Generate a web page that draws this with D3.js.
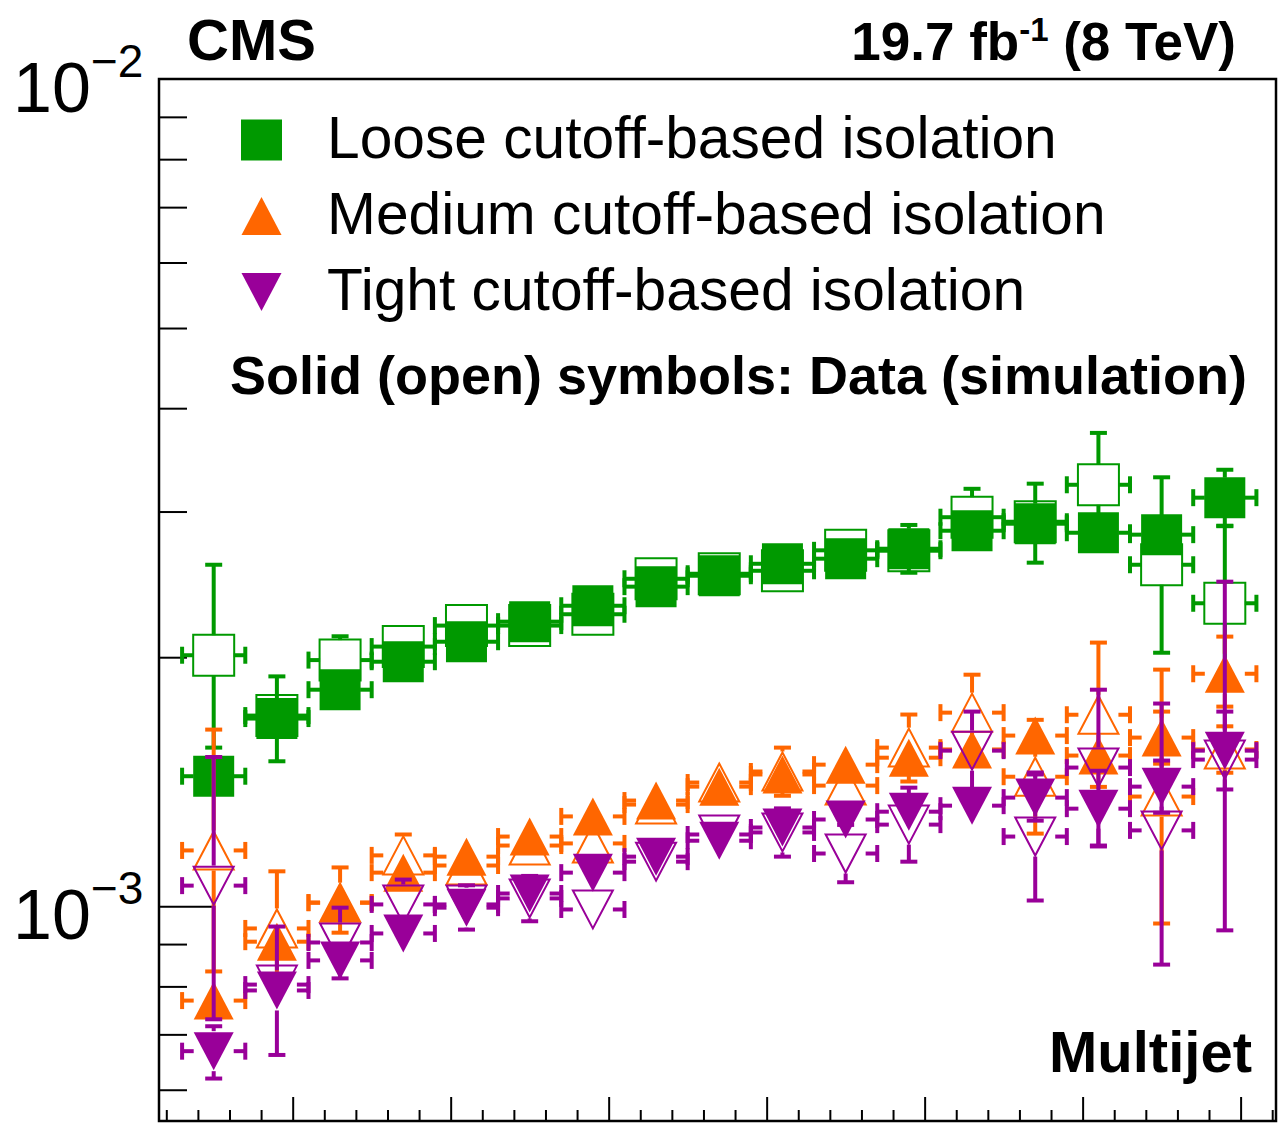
<!DOCTYPE html>
<html>
<head>
<meta charset="utf-8">
<script src="https://cdn.jsdelivr.net/npm/d3@7"></script>
<style>
  body { margin: 0; background: #fff; }
  svg { display: block; font-family: "Liberation Sans", Arial, Helvetica, sans-serif; }
</style>
</head>
<body>
<svg id="chart" width="1278" height="1127"></svg>
<script>
  // bin centres (each bin is +-1 wide)
  var binCenters = [2.5, 4.5, 6.5, 8.5, 10.5, 12.5, 14.5, 16.5, 18.5, 20.5, 22.5, 24.5, 26.5, 28.5, 30.5, 32.5, 34.5];
  var binHalfWidth = 1;

  // all values below are in units of 1e-3
  var looseData   = [1.436, 1.686, 1.827, 1.975, 2.088, 2.208, 2.308, 2.434, 2.509, 2.594, 2.631, 2.705, 2.844, 2.900, 2.828, 2.813, 3.118];
  var looseDataLo = [1.39, 1.497, 1.78, 1.93, 2.04, 2.16, 2.26, 2.38, 2.45, 2.53, 2.56, 2.53, 2.78, 2.602, 2.75, 2.70, 2.884];
  var looseDataHi = [1.49, 1.896, 1.87, 2.02, 2.14, 2.26, 2.36, 2.49, 2.57, 2.66, 2.70, 2.89, 2.91, 3.242, 2.91, 2.93, 3.370];
  var looseSim    = [2.011, 1.700, 1.984, 2.060, 2.184, 2.184, 2.254, 2.488, 2.523, 2.544, 2.693, 2.690, 2.953, 2.916, 3.232, 2.587, 2.324];
  var looseSimLo  = [1.555, 1.66, 1.93, 2.01, 2.13, 2.13, 2.20, 2.43, 2.46, 2.48, 2.63, 2.62, 2.73, 2.85, 2.80, 2.025, 1.87];
  var looseSimHi  = [2.587, 1.74, 2.12, 2.11, 2.24, 2.24, 2.31, 2.55, 2.59, 2.61, 2.76, 2.76, 3.196, 2.98, 3.734, 3.30, 2.88];

  var mediumData   = [0.769, 0.906, 1.010, 1.098, 1.148, 1.214, 1.284, 1.342, 1.395, 1.443, 1.483, 1.512, 1.547, 1.608, 1.521, 1.599, 1.910];
  var mediumDataLo = [0.745, 0.87, 0.929, 1.06, 1.11, 1.17, 1.24, 1.30, 1.35, 1.40, 1.43, 1.47, 1.50, 1.56, 1.47, 1.487, 1.743];
  var mediumDataHi = [0.795, 0.94, 1.114, 1.14, 1.19, 1.26, 1.33, 1.39, 1.44, 1.49, 1.53, 1.555, 1.60, 1.66, 1.57, 1.719, 2.118];
  var mediumSim    = [1.168, 0.940, 1.010, 1.152, 1.120, 1.184, 1.191, 1.327, 1.411, 1.455, 1.399, 1.555, 1.714, 1.434, 1.704, 1.357, 1.547];
  var mediumSimLo  = [0.834, 0.80, 0.97, 1.087, 1.08, 1.14, 1.15, 1.28, 1.36, 1.36, 1.35, 1.415, 1.542, 1.224, 1.394, 0.953, 1.45];
  var mediumSimHi  = [1.635, 1.102, 1.05, 1.221, 1.16, 1.23, 1.23, 1.37, 1.46, 1.555, 1.45, 1.705, 1.905, 1.68, 2.083, 1.932, 1.65];

  var tightData   = [0.668, 0.791, 0.860, 0.927, 0.996, 1.036, 1.098, 1.148, 1.200, 1.245, 1.273, 1.301, 1.323, 1.353, 1.312, 1.395, 1.542];
  var tightDataLo = [0.619, 0.661, 0.84, 0.89, 0.937, 1.0, 1.06, 1.11, 1.148, 1.20, 1.23, 1.27, 1.28, 1.269, 1.181, 1.297, 1.384];
  var tightDataHi = [0.716, 0.945, 0.88, 0.96, 1.06, 1.075, 1.14, 1.19, 1.254, 1.29, 1.32, 1.33, 1.37, 1.443, 1.458, 1.500, 1.719];
  var tightSim    = [1.059, 0.804, 0.904, 1.005, 1.005, 1.022, 0.991, 1.132, 1.221, 1.228, 1.158, 1.255, 1.542, 1.214, 1.471, 1.235, 1.504];
  var tightSimLo  = [0.730, 0.77, 0.818, 0.937, 0.96, 0.959, 0.95, 1.071, 1.17, 1.148, 1.069, 1.132, 1.383, 1.016, 1.184, 0.850, 0.935];
  var tightSimHi  = [1.515, 0.84, 0.996, 1.077, 1.05, 1.088, 1.03, 1.197, 1.27, 1.313, 1.254, 1.391, 1.719, 1.451, 1.827, 1.758, 2.468];

  var legendLabels = ['Loose cutoff-based isolation', 'Medium cutoff-based isolation', 'Tight cutoff-based isolation'];
  var colors = ['#009900', '#ff6600', '#990099'];
  var shapes = ['square', 'up', 'down'];

  var svg = d3.select('#chart');
  svg.append('rect').attr('width', 1278).attr('height', 1127).attr('fill', 'white');

  var frameL = 159, frameR = 1276, frameT = 79, frameB = 1121;
  var x = d3.scaleLinear().domain([0.769, 36.12]).range([frameL, frameR]);
  var y = d3.scaleLog().domain([5.5e-4, 1e-2]).range([frameB, frameT]);

  // frame
  svg.append('rect')
    .attr('x', frameL).attr('y', frameT)
    .attr('width', frameR - frameL).attr('height', frameB - frameT)
    .attr('fill', 'none').attr('stroke', 'black').attr('stroke-width', 2.5);

  // y ticks
  var yMinor = [6e-4, 7e-4, 8e-4, 9e-4, 2e-3, 3e-3, 4e-3, 5e-3, 6e-3, 7e-3, 8e-3, 9e-3];
  var yMajor = [1e-3];
  function styleAxis(g) {
    g.select('.domain').remove();
    g.selectAll('.tick line').attr('stroke', 'black').attr('stroke-width', 2);
    g.selectAll('.tick text').remove();
  }
  svg.append('g').attr('transform', 'translate(' + frameL + ',0)')
    .call(d3.axisLeft(y).tickValues(yMinor).tickSize(-28).tickFormat(''))
    .call(styleAxis);
  svg.append('g').attr('transform', 'translate(' + frameL + ',0)')
    .call(d3.axisLeft(y).tickValues(yMajor).tickSize(-56).tickFormat(''))
    .call(styleAxis);

  // x ticks
  var xAll = d3.range(1, 37);
  var xMajor = xAll.filter(function (v) { return v % 5 === 0; });
  var xMinor = xAll.filter(function (v) { return v % 5 !== 0; });
  svg.append('g').attr('transform', 'translate(0,' + frameB + ')')
    .call(d3.axisBottom(x).tickValues(xMinor).tickSize(-11).tickFormat(''))
    .call(styleAxis);
  svg.append('g').attr('transform', 'translate(0,' + frameB + ')')
    .call(d3.axisBottom(x).tickValues(xMajor).tickSize(-24).tickFormat(''))
    .call(styleAxis);

  // y labels 10^-2, 10^-3
  [[1e-2, '2'], [1e-3, '3']].forEach(function (d) {
    var t = svg.append('text')
      .attr('x', 13).attr('y', y(d[0]) + 33)
      .attr('font-size', 70).attr('fill', 'black');
    t.append('tspan').text('10');
    t.append('tspan').attr('font-size', 46).attr('dy', -35).text('\u2212' + d[1]);
  });

  // markers
  var mw = 20, mh = 19;
  function markerPath(shape, cx, cy) {
    if (shape === 'square') {
      return 'M' + (cx - 20.5) + ',' + (cy - 20.5) + 'h41v41h-41Z';
    } else if (shape === 'up') {
      return 'M' + (cx - mw) + ',' + (cy + mh) + 'L' + (cx + mw) + ',' + (cy + mh) + 'L' + cx + ',' + (cy - mh) + 'Z';
    }
    return 'M' + (cx - mw) + ',' + (cy - mh) + 'L' + (cx + mw) + ',' + (cy - mh) + 'L' + cx + ',' + (cy + mh) + 'Z';
  }

  function drawGraph(vals, lo, hi, color, shape, filled) {
    var g = svg.append('g');
    var gap = 20, cap = 8.5;
    vals.forEach(function (v, i) {
      var cx = x(binCenters[i]);
      var cy = y(v * 1e-3);
      var yh = y(hi[i] * 1e-3);
      var yl = y(lo[i] * 1e-3);
      var xl = x(binCenters[i] - binHalfWidth);
      var xr = x(binCenters[i] + binHalfWidth);
      var segs = [];
      if (cy - yh > gap) {
        segs.push([cx, cy - gap, cx, yh]);
        segs.push([cx - cap, yh, cx + cap, yh]);
      }
      if (yl - cy > gap) {
        segs.push([cx, cy + gap, cx, yl]);
        segs.push([cx - cap, yl, cx + cap, yl]);
      }
      segs.push([cx - gap, cy, xl, cy]);
      segs.push([xl, cy - cap, xl, cy + cap]);
      segs.push([cx + gap, cy, xr, cy]);
      segs.push([xr, cy - cap, xr, cy + cap]);
      segs.forEach(function (s) {
        g.append('line')
          .attr('x1', s[0]).attr('y1', s[1]).attr('x2', s[2]).attr('y2', s[3])
          .attr('stroke', color).attr('stroke-width', 4);
      });
      g.append('path')
        .attr('d', markerPath(shape, cx, cy))
        .attr('fill', filled ? color : 'none')
        .attr('stroke', filled ? 'none' : color)
        .attr('stroke-width', 2);
    });
  }

  var groups = [
    [looseData, looseDataLo, looseDataHi, looseSim, looseSimLo, looseSimHi],
    [mediumData, mediumDataLo, mediumDataHi, mediumSim, mediumSimLo, mediumSimHi],
    [tightData, tightDataLo, tightDataHi, tightSim, tightSimLo, tightSimHi]
  ];
  groups.forEach(function (s, k) {
    drawGraph(s[3], s[4], s[5], colors[k], shapes[k], false);  // simulation: open
    drawGraph(s[0], s[1], s[2], colors[k], shapes[k], true);   // data: solid
  });

  // legend
  var legendY = [140, 216, 292];
  legendLabels.forEach(function (lab, k) {
    svg.append('path')
      .attr('d', markerPath(shapes[k], 261.5, legendY[k]))
      .attr('fill', colors[k]);
    svg.append('text')
      .attr('x', 327).attr('y', legendY[k] + 18)
      .attr('font-size', 58.7).attr('fill', 'black')
      .text(lab);
  });

  svg.append('text')
    .attr('x', 230).attr('y', 394)
    .attr('font-size', 54).attr('font-weight', 'bold')
    .text('Solid (open) symbols: Data (simulation)');

  svg.append('text')
    .attr('x', 187).attr('y', 60)
    .attr('font-size', 58).attr('font-weight', 'bold')
    .text('CMS');

  var lumi = svg.append('text')
    .attr('x', 1236).attr('y', 60)
    .attr('text-anchor', 'end')
    .attr('font-size', 53).attr('font-weight', 'bold');
  lumi.append('tspan').text('19.7 fb');
  lumi.append('tspan').attr('font-size', 33).attr('dy', -19).text('-1');
  lumi.append('tspan').attr('dy', 19).text(' (8 TeV)');

  svg.append('text')
    .attr('x', 1252).attr('y', 1072)
    .attr('text-anchor', 'end')
    .attr('font-size', 58).attr('font-weight', 'bold')
    .text('Multijet');
</script>
</body>
</html>
